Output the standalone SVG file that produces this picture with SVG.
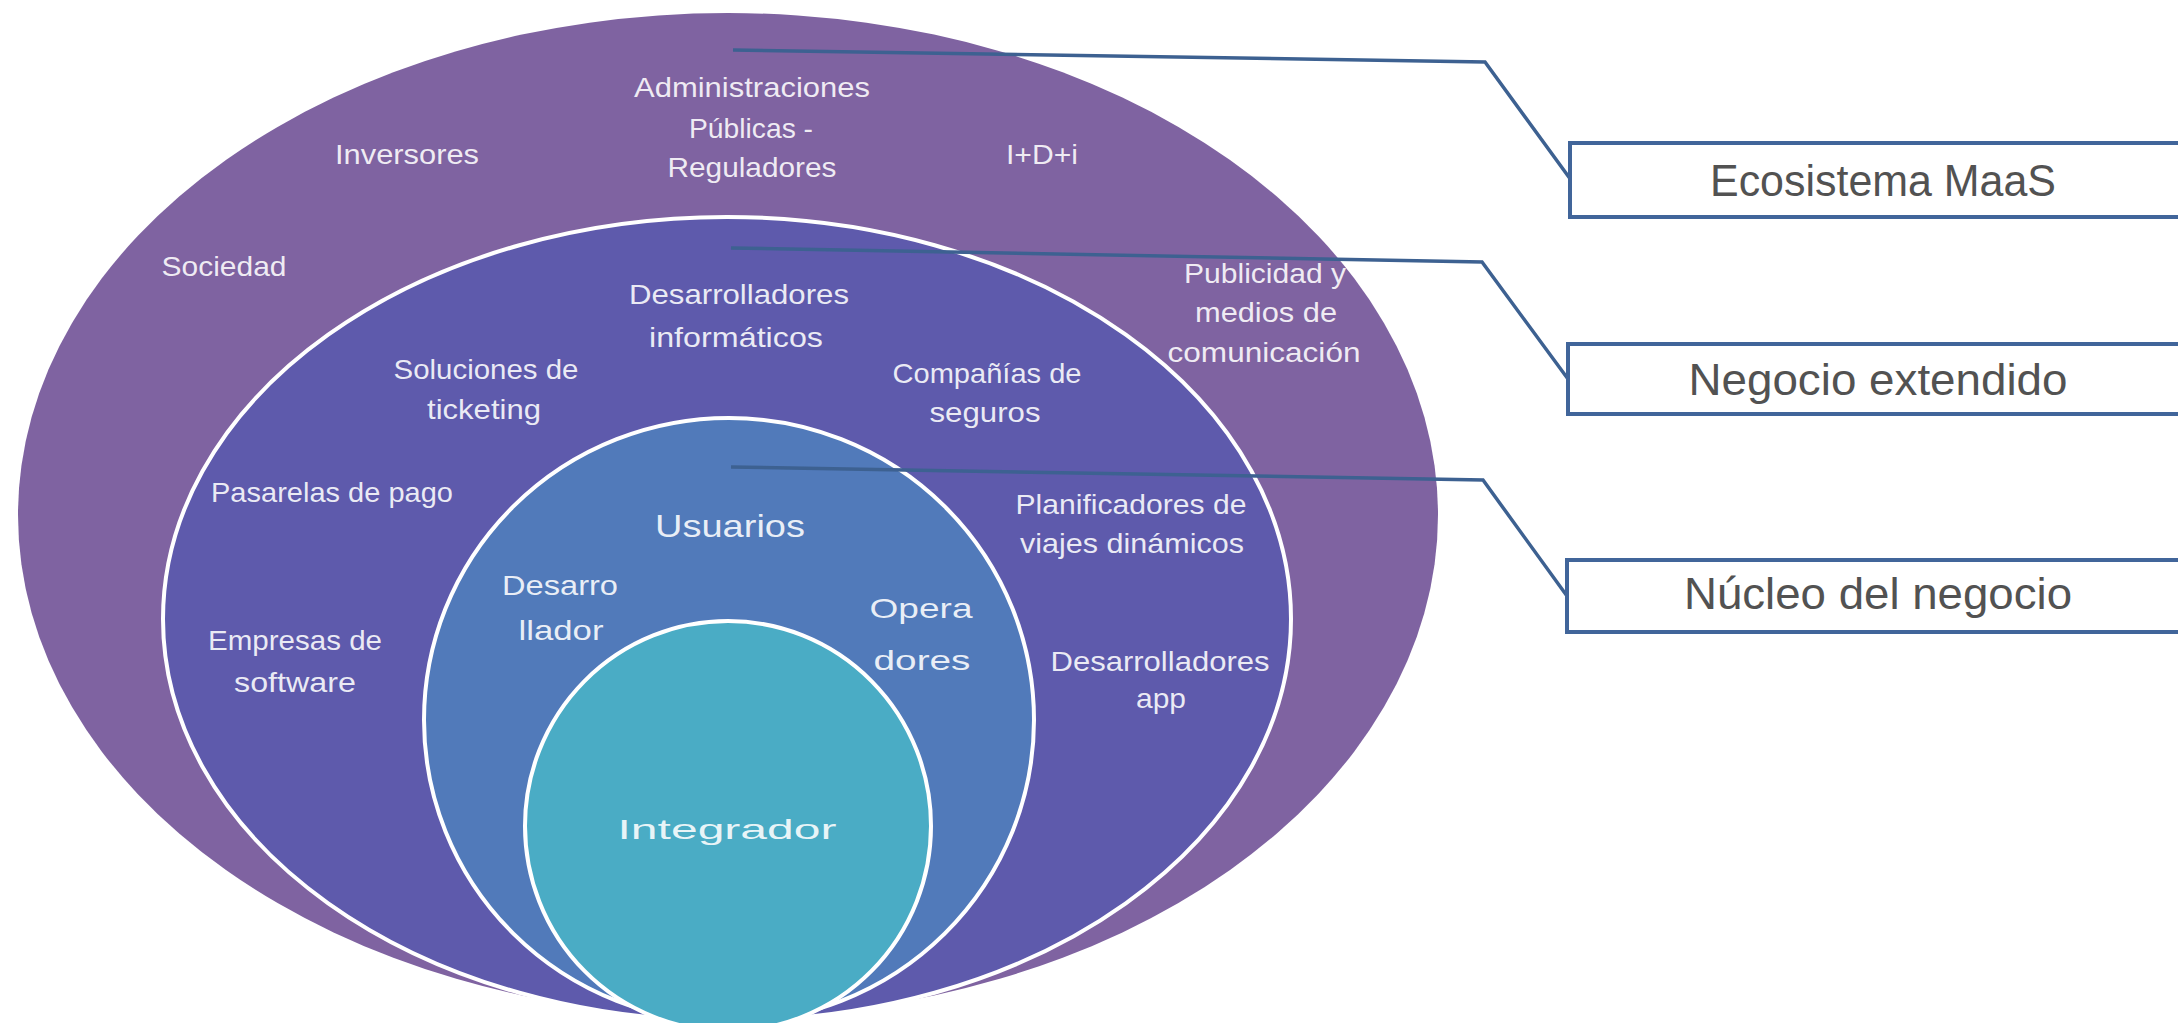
<svg xmlns="http://www.w3.org/2000/svg" width="2178" height="1023" viewBox="0 0 2178 1023">
<style>
.ring{stroke:#ffffff;stroke-width:4}
.lbl{font-family:"Liberation Sans Narrow","Liberation Sans",Arial,sans-serif;fill:#ffffff;fill-opacity:0.88;text-anchor:middle;font-size:28px}
.core{font-size:32px}
.box{fill:#ffffff;stroke:#41659A;stroke-width:4}
.btxt{font-family:"Liberation Sans",Arial,sans-serif;fill:#525252;font-size:45px;text-anchor:middle}
.lead{fill:none;stroke:#3D6191;stroke-width:3.5}
</style>
<rect x="0" y="0" width="2178" height="1023" fill="#ffffff"/>
<g id="ecosistema">
<ellipse cx="728" cy="515" rx="710" ry="502" fill="#7F63A1"/>
<text class="lbl" x="752" y="97" textLength="236" lengthAdjust="spacingAndGlyphs">Administraciones</text>
<text class="lbl" x="751" y="138" textLength="124" lengthAdjust="spacingAndGlyphs">Públicas -</text>
<text class="lbl" x="752" y="177" textLength="169" lengthAdjust="spacingAndGlyphs">Reguladores</text>
<text class="lbl" x="407" y="164" textLength="144" lengthAdjust="spacingAndGlyphs">Inversores</text>
<text class="lbl" x="1042" y="164" textLength="72" lengthAdjust="spacingAndGlyphs">I+D+i</text>
<text class="lbl" x="224" y="276" textLength="125" lengthAdjust="spacingAndGlyphs">Sociedad</text>
<text class="lbl" x="1265" y="283" textLength="162" lengthAdjust="spacingAndGlyphs">Publicidad y</text>
<text class="lbl" x="1266" y="322" textLength="142" lengthAdjust="spacingAndGlyphs">medios de</text>
<text class="lbl" x="1264" y="362" textLength="193" lengthAdjust="spacingAndGlyphs">comunicación</text>
</g>
<g id="negocio-extendido">
<ellipse class="ring" cx="727" cy="619" rx="564" ry="402" fill="#5E5AAC"/>
<text class="lbl" x="739" y="304" textLength="220" lengthAdjust="spacingAndGlyphs">Desarrolladores</text>
<text class="lbl" x="736" y="347" textLength="174" lengthAdjust="spacingAndGlyphs">informáticos</text>
<text class="lbl" x="486" y="379" textLength="185" lengthAdjust="spacingAndGlyphs">Soluciones de</text>
<text class="lbl" x="484" y="419" textLength="114" lengthAdjust="spacingAndGlyphs">ticketing</text>
<text class="lbl" x="987" y="383" textLength="189" lengthAdjust="spacingAndGlyphs">Compañías de</text>
<text class="lbl" x="985" y="422" textLength="111" lengthAdjust="spacingAndGlyphs">seguros</text>
<text class="lbl" x="332" y="502" textLength="242" lengthAdjust="spacingAndGlyphs">Pasarelas de pago</text>
<text class="lbl" x="1131" y="514" textLength="231" lengthAdjust="spacingAndGlyphs">Planificadores de</text>
<text class="lbl" x="1132" y="553" textLength="224" lengthAdjust="spacingAndGlyphs">viajes dinámicos</text>
<text class="lbl" x="295" y="650" textLength="174" lengthAdjust="spacingAndGlyphs">Empresas de</text>
<text class="lbl" x="295" y="692" textLength="122" lengthAdjust="spacingAndGlyphs">software</text>
<text class="lbl" x="1160" y="671" textLength="219" lengthAdjust="spacingAndGlyphs">Desarrolladores</text>
<text class="lbl" x="1161" y="708" textLength="50" lengthAdjust="spacingAndGlyphs">app</text>
</g>
<g id="nucleo">
<ellipse class="ring" cx="729" cy="720" rx="305" ry="302" fill="#517ABA"/>
<text class="lbl core" x="730" y="537" textLength="150" lengthAdjust="spacingAndGlyphs">Usuarios</text>
<text class="lbl" x="560" y="595" font-size="30" textLength="116" lengthAdjust="spacingAndGlyphs">Desarro</text>
<text class="lbl" x="561" y="640" font-size="30" textLength="85" lengthAdjust="spacingAndGlyphs">llador</text>
<text class="lbl" x="921" y="618" font-size="35" textLength="103" lengthAdjust="spacingAndGlyphs">Opera</text>
<text class="lbl" x="922" y="670" font-size="35" textLength="97" lengthAdjust="spacingAndGlyphs">dores</text>
</g>
<g id="integrador">
<ellipse class="ring" cx="728" cy="826" rx="203" ry="205" fill="#4AACC5"/>
<text class="lbl" x="727" y="839" font-size="44" textLength="219" lengthAdjust="spacingAndGlyphs">Integrador</text>
</g>
<g id="connectors">
<polyline class="lead" points="733,50 1485,62 1571,180"/>
<polyline class="lead" points="731,248 1482,262 1568,379"/>
<polyline class="lead" points="731,467 1483,480 1567,596"/>
</g>
<g id="box-ecosistema">
<rect class="box" x="1570" y="143" width="640" height="74"/>
<text class="btxt" x="1883" y="196" textLength="346" lengthAdjust="spacingAndGlyphs">Ecosistema MaaS</text>
</g>
<g id="box-extendido">
<rect class="box" x="1568" y="344" width="640" height="70"/>
<text class="btxt" x="1878" y="395" textLength="379" lengthAdjust="spacingAndGlyphs">Negocio extendido</text>
</g>
<g id="box-nucleo">
<rect class="box" x="1567" y="560" width="640" height="72"/>
<text class="btxt" x="1878" y="609" textLength="388" lengthAdjust="spacingAndGlyphs">Núcleo del negocio</text>
</g>
</svg>
